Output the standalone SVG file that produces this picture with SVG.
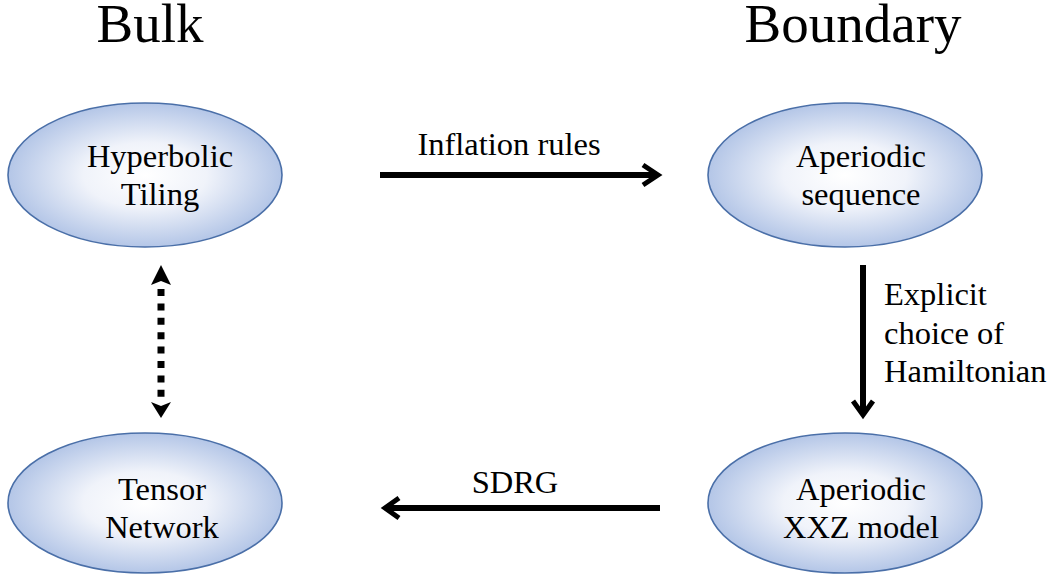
<svg xmlns="http://www.w3.org/2000/svg" width="1055" height="585" viewBox="0 0 1055 585">
<defs>
<radialGradient id="g" cx="0.5" cy="0.5" r="0.5">
<stop offset="0" stop-color="#ffffff"/>
<stop offset="0.45" stop-color="#f0f3fa"/>
<stop offset="1" stop-color="#b4c6e7"/>
</radialGradient>
<style>
.n{fill:url(#g);stroke:#4a6fa8;stroke-width:1.6}
.t{font-family:"Liberation Serif","Times New Roman",serif;font-size:32.5px;fill:#000;text-anchor:middle}
.l{font-family:"Liberation Serif","Times New Roman",serif;font-size:32.5px;fill:#000}
.h{font-family:"Liberation Serif","Times New Roman",serif;font-size:55px;fill:#000;text-anchor:middle}
.s{stroke:#000;stroke-width:6;fill:none}
.ch{stroke:#000;stroke-width:5;fill:none;stroke-linejoin:miter;stroke-miterlimit:10}
</style>
</defs>
<rect width="1055" height="585" fill="#fff"/>
<text class="h" x="150" y="42">Bulk</text>
<text class="h" x="853" y="42">Boundary</text>

<g id="hyperbolic">
<ellipse class="n" cx="145" cy="175" rx="137" ry="72"/>
<text class="t" x="160" y="167">Hyperbolic</text>
<text class="t" x="160" y="205">Tiling</text>
</g>
<g id="sequence">
<ellipse class="n" cx="845" cy="175" rx="137" ry="72"/>
<text class="t" x="861" y="167">Aperiodic</text>
<text class="t" x="861" y="205">sequence</text>
</g>
<g id="tensor">
<ellipse class="n" cx="145" cy="503" rx="137" ry="70"/>
<text class="t" x="162" y="500">Tensor</text>
<text class="t" x="162" y="538">Network</text>
</g>
<g id="xxz">
<ellipse class="n" cx="845" cy="503" rx="137" ry="70"/>
<text class="t" x="861" y="500">Aperiodic</text>
<text class="t" x="861" y="538">XXZ model</text>
</g>

<g id="connectors">
<line class="s" x1="380" y1="175" x2="656" y2="175"/>
<polyline class="ch" points="643,165 658,175 643,185"/>
<text class="l" x="509" y="155" text-anchor="middle">Inflation rules</text>

<line class="s" x1="863" y1="265" x2="863" y2="413"/>
<polyline class="ch" points="853,401 863,415 873,401"/>
<text class="l" x="884" y="305">Explicit</text>
<text class="l" x="884" y="344">choice of</text>
<text class="l" x="884" y="382">Hamiltonian</text>

<line class="s" x1="660" y1="508" x2="386" y2="508"/>
<polyline class="ch" points="399,498 385,508 399,518"/>
<text class="l" x="515" y="493" text-anchor="middle">SDRG</text>

<line x1="161" y1="289" x2="161" y2="397" stroke="#000" stroke-width="7" stroke-dasharray="7 7.4"/>
<path d="M161,265 L171,285 L161,281 L151,285 Z" fill="#000"/>
<path d="M161,418 L171,402 L161,406 L151,402 Z" fill="#000"/>
</g>
</svg>
